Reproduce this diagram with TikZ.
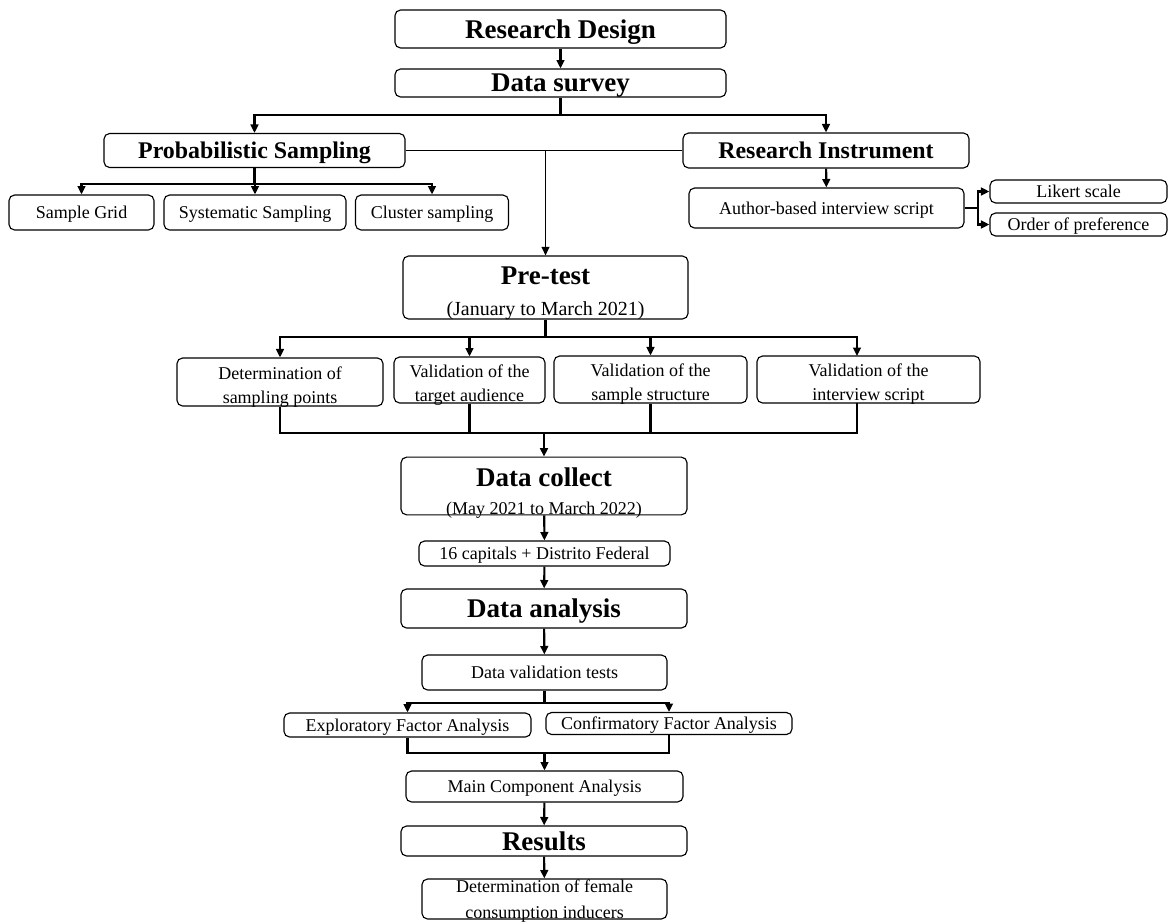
\documentclass[tikz,border=0pt]{standalone}
\usepackage{fontspec}
\setmainfont{Liberation Serif}
\usepackage{tikz}
\usetikzlibrary{arrows.meta}

\begin{document}
\begin{tikzpicture}[x=0.025cm, y=-0.025cm,
  box/.style={draw, rounded corners=4pt, line width=0.8pt, inner sep=0pt, text depth=0pt, align=center, font=\fontsize{12.8}{17}\selectfont},
  stage/.style={box, font=\bfseries\fontsize{19.2}{22}\selectfont},
  branch/.style={box, font=\bfseries\fontsize{17}{20}\selectfont},
  link/.style={line width=1.5pt},
  thinlink/.style={line width=0.9pt},
  arr/.style={link, -{Triangle[length=6pt, width=5.5pt]}}]
  \useasboundingbox (0,0) rectangle (1173,922);

  % Design and survey
  \node[stage, minimum width=8.275cm, minimum height=0.95cm] (rd) at (560.5,29) {Research Design};
  \node[stage, minimum width=8.275cm, minimum height=0.7cm] (ds) at (560.5,83) {Data survey};
  \draw[arr] (rd) -- (ds);

  % Sampling and instrument
  \node[branch, minimum width=7.525cm, minimum height=0.85cm] (ps) at (254.5,150.5) {Probabilistic Sampling};
  \node[branch, minimum width=7.15cm, minimum height=0.875cm] (ri) at (826,150.5) {Research Instrument};
  \coordinate (dsj) at (560.5,115);
  \draw[link] (ds) -- (dsj);
  \draw[arr] (dsj) -| (ps);
  \draw[arr] (dsj) -| (ri);

  \node[box, minimum width=3.625cm, minimum height=0.875cm] (sg) at (81.5,212.5) {Sample Grid};
  \node[box, minimum width=4.55cm, minimum height=0.875cm] (sys) at (255,212.5) {Systematic Sampling};
  \node[box, minimum width=3.825cm, minimum height=0.875cm] (cl) at (432,212.5) {Cluster sampling};
  \coordinate (psj) at (254.5,184);
  \draw[link] (ps) -- (psj);
  \foreach \n in {sg,sys,cl} \draw[arr] (psj) -| (\n);

  \node[box, minimum width=6.875cm, minimum height=1.0cm] (abis) at (826.5,208) {Author-based interview script};
  \node[box, minimum width=4.425cm, minimum height=0.575cm] (lik) at (1078.5,191.5) {Likert scale};
  \node[box, minimum width=4.425cm, minimum height=0.575cm] (ord) at (1078.5,224.5) {Order of preference};
  \draw[arr] (ri) -- (abis);
  \coordinate (abj) at (978,208);
  \draw[link] (abis) -- (abj);
  \draw[arr] (abj) |- (lik);
  \draw[arr] (abj) |- (ord);

  % Pre-test
  \node[stage, minimum width=7.125cm, minimum height=1.575cm] (pt) at (545.5,287.5)
    {\rule{0pt}{18pt}Pre-test\\{\mdseries\fontsize{14.2}{17}\selectfont (January to March 2021)}};
  \draw[thinlink] (ps) -- (ri);
  \coordinate (ptj) at (545.5,150.5);
  \draw[thinlink, -{Triangle[length=6pt, width=5.5pt]}] (ptj) -- (pt);

  \node[box, minimum width=5.15cm, minimum height=1.2cm] (d1) at (280,382) {\rule{0pt}{13pt}Determination of\\sampling points};
  \node[box, minimum width=3.775cm, minimum height=1.15cm] (d2) at (469.5,380) {\rule{0pt}{13pt}Validation of the\\target audience};
  \node[box, minimum width=4.825cm, minimum height=1.175cm] (d3) at (650.5,379.5) {\rule{0pt}{13pt}Validation of the\\sample structure};
  \node[box, minimum width=5.575cm, minimum height=1.175cm] (d4) at (868.5,379.5) {\rule{0pt}{13pt}Validation of the\\interview script};
  \coordinate (pts) at (545.5,337);
  \draw[link] (pt) -- (pts);
  \foreach \n in {d1,d2,d3} \draw[arr] (pts) -| (\n);
  \coordinate (d4in) at (857,356);
  \draw[arr] (pts) -| (d4in);

  \coordinate (mrg) at (544,433);
  \foreach \n in {d1,d2,d3} \draw[link] (\n) |- (mrg);
  \coordinate (d4out) at (857,403);
  \draw[link] (d4out) |- (mrg);

  % Collection and analysis
  \node[stage, minimum width=7.15cm, minimum height=1.35cm] (dc) at (544,486)
    {\rule{0pt}{21pt}Data collect\\[-2pt]{\mdseries\fontsize{12.8}{15}\selectfont (May 2021 to March 2022)}};
  \node[box, minimum width=6.275cm, minimum height=0.625cm] (cap) at (544.5,553.5) {16 capitals + Distrito Federal};
  \node[stage, minimum width=7.15cm, minimum height=0.975cm] (da) at (544,608.5) {Data analysis};
  \node[box, minimum width=6.125cm, minimum height=0.875cm] (dvt) at (544.5,672.5) {Data validation tests};
  \draw[arr] (mrg) -- (dc);
  \draw[arr] (dc) -- (cap);
  \draw[arr] (cap) -- (da);
  \draw[arr] (da) -- (dvt);

  \node[box, minimum width=6.175cm, minimum height=0.6cm] (efa) at (407.5,725) {Exploratory Factor Analysis};
  \node[box, minimum width=6.15cm, minimum height=0.55cm] (cfa) at (669,723.5) {Confirmatory Factor Analysis};
  \coordinate (dvj) at (544.5,703);
  \draw[link] (dvt) -- (dvj);
  \draw[arr] (dvj) -| (efa);
  \draw[arr] (dvj) -| (cfa);

  \node[box, minimum width=6.925cm, minimum height=0.775cm] (mca) at (544.5,786.5) {Main Component Analysis};
  \coordinate (fmj) at (544.5,753);
  \draw[link] (efa) |- (fmj);
  \draw[link] (cfa) |- (fmj);
  \draw[arr] (fmj) -- (mca);

  % Results
  \node[stage, minimum width=7.15cm, minimum height=0.75cm] (res) at (544,841) {Results};
  \node[box, minimum width=6.125cm, minimum height=1.0cm] (fin) at (544.5,899) {Determination of female\\[1pt]consumption inducers};
  \draw[arr] (mca) -- (res);
  \draw[arr] (res) -- (fin);
\end{tikzpicture}
\end{document}
